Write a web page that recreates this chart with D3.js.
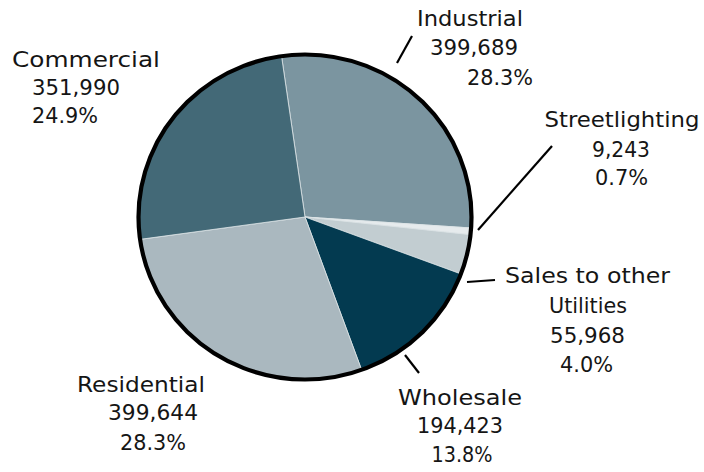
<!DOCTYPE html>
<html>
<head>
<meta charset="utf-8">
<script src="https://cdn.jsdelivr.net/npm/d3@7"></script>
<style>
  html, body { margin: 0; padding: 0; background: #fff; }
  svg { display: block; }
  text { font-family: "DejaVu Sans", sans-serif; font-size: 21.5px; fill: #151515; }
</style>
</head>
<body>
<svg id="chart" width="704" height="472"></svg>
<script>
// ---- data ----
const categories = ["Industrial", "Streetlighting", "Sales to other Utilities", "Wholesale", "Residential", "Commercial"];
const values = [399689, 9243, 55968, 194423, 399644, 351990];
const percents = ["28.3%", "0.7%", "4.0%", "13.8%", "28.3%", "24.9%"];
const colors = ["#7b95a0", "#e6ebed", "#c2cdd1", "#033a50", "#aab8bf", "#436977"];

// ---- layout (positions only) ----
const cx = 305, cy = 217, rx = 166.5, ry = 162.5;
const startDeg = -8.1;
// per-label line layout: [centerX, baselineY, width]
const labelLayout = {
  "Industrial": { lines: ["Industrial", null, null], pos: [[470, 26, 106], [474, 55, 88], [500, 85, 66]] },
  "Streetlighting": { lines: ["Streetlighting", null, null], pos: [[622, 127, 155], [621, 157, 58], [621.5, 185, 53]] },
  "Sales to other Utilities": { lines: ["Sales to other", "Utilities", null, null], pos: [[587.5, 283, 165], [588, 313, 78], [587.5, 343, 75], [586.5, 372, 53]] },
  "Wholesale": { lines: ["Wholesale", null, null], pos: [[460, 405, 124], [460, 433, 86], [462, 462, 61]] },
  "Residential": { lines: ["Residential", null, null], pos: [[141, 392, 128], [153, 420, 90], [153, 450, 66]] },
  "Commercial": { lines: ["Commercial", null, null], pos: [[86, 67, 148], [76, 95, 88], [65, 123, 66]] }
};
const leaders = {
  "Industrial": [[397, 63], [412, 36]],
  "Streetlighting": [[478, 230], [552, 146]],
  "Sales to other Utilities": [[467, 282], [495, 280]],
  "Wholesale": [[405, 355], [419, 373]]
};

const svg = d3.select("#chart");
const fmt = d3.format(",");

const pie = d3.pie().sort(null).value(d => d.value)
  .startAngle(startDeg * Math.PI / 180)
  .endAngle(startDeg * Math.PI / 180 + 2 * Math.PI);
const data = categories.map((c, i) => ({ name: c, value: values[i], pct: percents[i], color: colors[i] }));
const arcs = pie(data);
const arc = d3.arc().innerRadius(0).outerRadius(ry);

const g = svg.append("g").attr("transform", `translate(${cx},${cy}) scale(${rx / ry},1)`);
g.selectAll("path.slice").data(arcs).join("path")
  .attr("class", "slice")
  .attr("d", arc)
  .attr("fill", d => d.data.color)
  .attr("stroke", "#dce3e6")
  .attr("stroke-width", 0.8)
  .attr("vector-effect", "non-scaling-stroke");

g.append("circle").attr("r", ry)
  .attr("fill", "none").attr("stroke", "#000").attr("stroke-width", 4.2)
  .attr("vector-effect", "non-scaling-stroke");

// leader lines
Object.entries(leaders).forEach(([k, pts]) => {
  svg.append("line")
    .attr("x1", pts[0][0]).attr("y1", pts[0][1])
    .attr("x2", pts[1][0]).attr("y2", pts[1][1])
    .attr("stroke", "#000").attr("stroke-width", 2.2);
});

// labels
data.forEach(d => {
  const L = labelLayout[d.name];
  const texts = L.lines.slice();
  texts[texts.length - 2] = fmt(d.value);
  texts[texts.length - 1] = d.pct;
  texts.forEach((t, i) => {
    const [x, y, w] = L.pos[i];
    svg.append("text")
      .attr("x", x).attr("y", y)
      .attr("text-anchor", "middle")
      .attr("textLength", w)
      .attr("lengthAdjust", "spacingAndGlyphs")
      .text(t);
  });
});
</script>
</body>
</html>
